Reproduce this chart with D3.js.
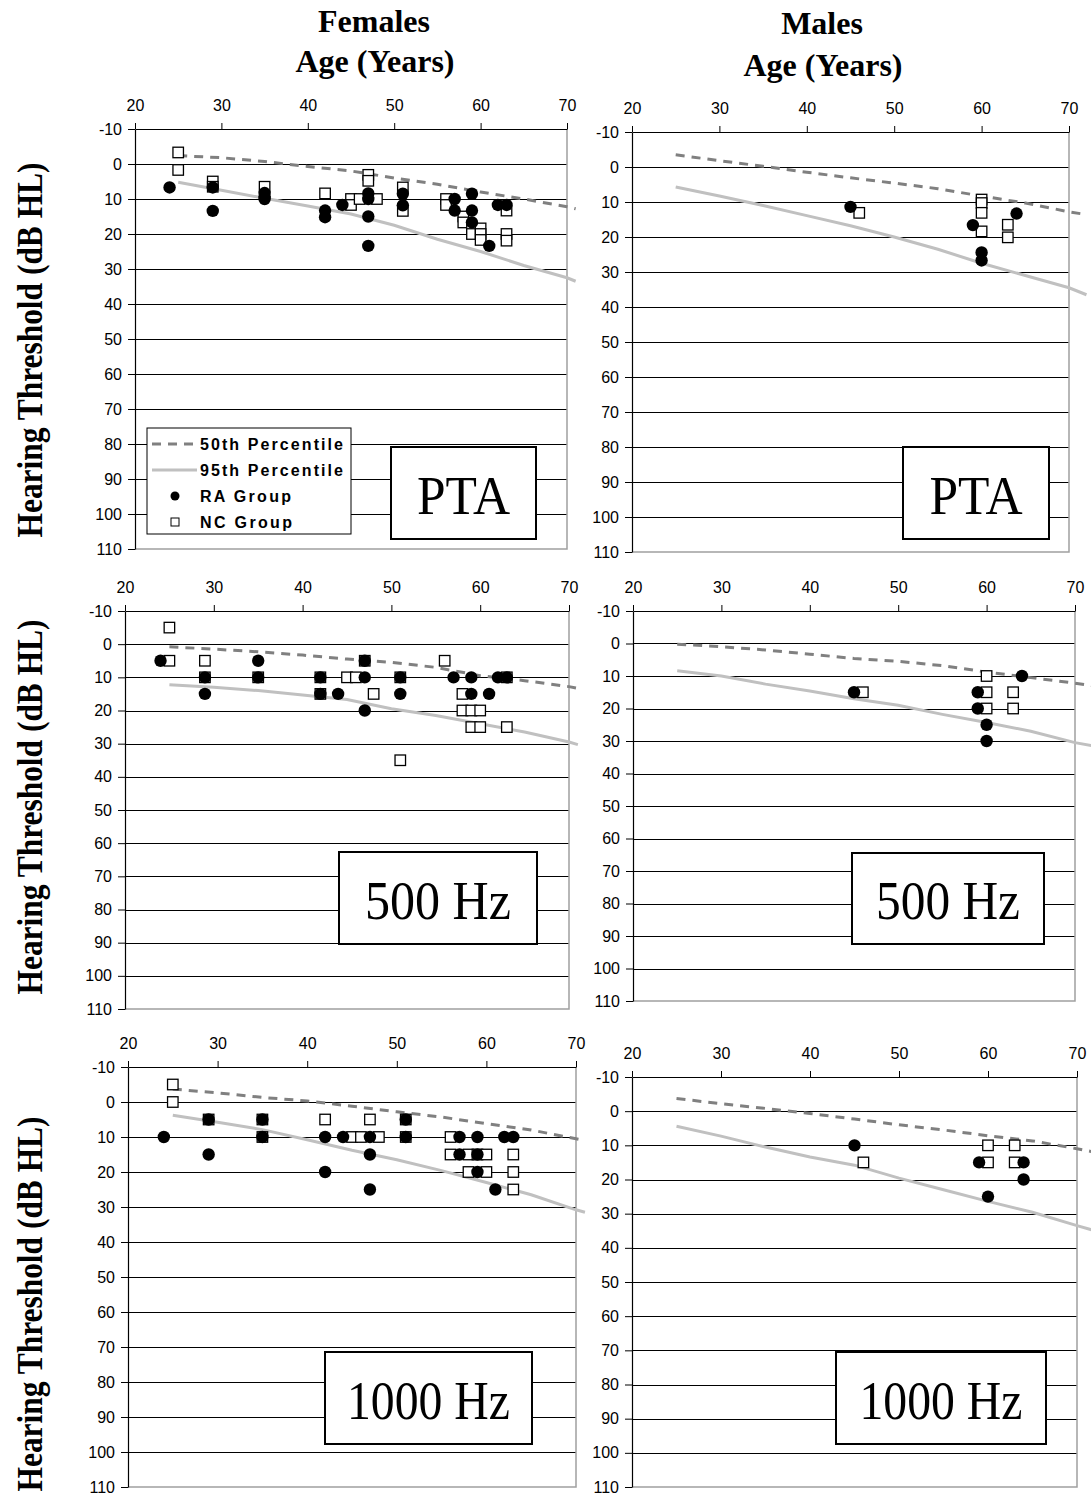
<!DOCTYPE html>
<html>
<head>
<meta charset="utf-8">
<script src="https://cdn.jsdelivr.net/npm/d3@7"></script>
<style>
  body { margin: 0; background: #fff; }
  svg { display: block; }
</style>
</head>
<body>
<div id="chart"></div>
<script>
// ---- data: [age, dB HL] ----
var xTicks = [20, 30, 40, 50, 60, 70];
var yTicks = [-10, 0, 10, 20, 30, 40, 50, 60, 70, 80, 90, 100, 110];

var femPtaRA = [[24,6.7],[29,6.7],[29,13.4],[35,8.3],[35,9.3],[35,10],[42,13.3],[42,15.2],[44,11.7],[47,8.4],[47,10],[47,15],[47,23.4],[51,8.5],[51,11.8],[57,10],[57,13.3],[59,8.5],[59,13.3],[59,16.7],[61,23.4],[62,11.7],[63,11.7]];
var femPtaNC = [[25,-3.3],[25,1.7],[29,5],[29,6.5],[35,6.5],[42,8.4],[45,10],[45,11.7],[46,10],[47,3.1],[47,4.8],[48,10],[51,6.7],[51,13.4],[56,10],[56,11.7],[58,15],[58,16.7],[59,18.3],[59,20],[60,18.4],[60,20],[60,21.7],[63,13.3],[63,20],[63,21.9]];
var femPta50 = [[25,-2.4],[30,-1.8],[35,-0.7],[40,0.7],[45,2],[50,4],[55,5.8],[60,8],[65,10],[70,12.2],[71,12.8]];
var femPta95 = [[25,5.2],[30,7.5],[35,9.8],[40,12],[45,14.3],[50,17.5],[55,21.5],[60,25],[65,29],[70,32.5],[71,33.5]];

var malPtaRA = [[45,11.4],[59,16.6],[60,24.4],[60,26.7],[64,13.3]];
var malPtaNC = [[46,13.1],[60,9.3],[60,10.3],[60,13.1],[60,18.4],[63,16.5],[63,20.1]];
var malPta50 = [[25,-3.5],[30,-1.8],[35,-0.2],[40,1.5],[45,3.1],[50,4.6],[55,6.2],[60,8.3],[65,10.3],[70,12.8],[72,13.6]];
var malPta95 = [[25,5.7],[30,8.3],[35,11],[40,13.9],[45,16.8],[50,20],[55,23.5],[60,27.5],[65,31],[70,34.5],[72,36.5]];

var fem500RA = [[24,5],[29,10],[29,15],[35,5],[35,10],[42,10],[42,15],[44,15],[47,5],[47,10],[47,20],[51,10],[51,15],[57,10],[59,10],[59,15],[61,15],[62,10],[63,10]];
var fem500NC = [[25,-5],[25,5],[29,5],[29,10],[35,10],[42,10],[42,15],[45,10],[46,10],[47,5],[48,15],[51,10],[51,35],[56,5],[58,15],[58,20],[59,20],[59,25],[60,20],[60,25],[63,10],[63,25]];
var fem50050 = [[25,0.8],[30,1.5],[35,2.3],[40,3.3],[45,4.5],[50,5.5],[55,7],[60,9.5],[65,11],[70,12.8],[71,13.3]];
var fem50095 = [[25,12.2],[30,13],[35,14],[40,15.3],[45,16.7],[50,19.5],[55,21.5],[60,24],[65,26.5],[70,29.5],[71,30.3]];

var mal500RA = [[45,15],[59,15],[59,20],[60,25],[60,30],[64,10]];
var mal500NC = [[46,15],[60,10],[60,15],[60,20],[63,15],[63,20]];
var mal50050 = [[25,0.2],[30,1],[35,2],[40,3.3],[45,4.6],[50,5.5],[55,6.8],[60,8.8],[65,10.5],[70,12.2],[72,13]];
var mal50095 = [[25,8.4],[30,10],[35,12.5],[40,14.6],[45,17],[50,19],[55,21.8],[60,24.3],[65,27],[70,30.5],[72,31.5]];

var fem1kRA = [[24,10],[29,5],[29,15],[35,5],[35,10],[42,10],[42,20],[44,10],[47,10],[47,15],[47,25],[51,5],[51,10],[57,10],[57,15],[59,10],[59,15],[59,20],[61,25],[62,10],[63,10]];
var fem1kNC = [[25,-5],[25,0],[29,5],[35,5],[35,10],[42,5],[45,10],[46,10],[47,5],[48,10],[51,5],[51,10],[56,10],[56,15],[58,15],[58,20],[59,15],[60,15],[60,20],[63,15],[63,20],[63,25]];
var fem1k50 = [[25,-3.7],[30,-2.6],[35,-1.3],[40,-0.3],[45,1.2],[50,2.8],[55,4.3],[60,6.2],[65,8],[70,10.5],[71,11]];
var fem1k95 = [[25,3.8],[30,5.8],[35,7.9],[40,10.8],[45,13.8],[50,16.5],[55,19.6],[60,23],[65,26.5],[70,30.8],[71,31.5]];

var mal1kRA = [[45,10],[59,15],[60,25],[64,15],[64,20]];
var mal1kNC = [[46,15],[60,10],[60,15],[63,10],[63,15]];
var mal1k50 = [[25,-3.7],[30,-2.2],[35,-0.8],[40,0.7],[45,2.3],[50,4],[55,5.5],[60,7.2],[65,8.7],[70,11],[72,12]];
var mal1k95 = [[25,4.4],[30,7.3],[35,10.5],[40,13.4],[45,15.8],[50,19.6],[55,23],[60,26.4],[65,29.6],[70,33.5],[72,35]];

var legendLabels = ["50th Percentile", "95th Percentile", "RA Group", "NC Group"];

// ---- layout ----
var panels = [
  {ra: femPtaRA, nc: femPtaNC, p50: femPta50, p95: femPta95, l: 135, r: 567, t: 129, b: 549,
   label: "PTA", box: [391, 447, 145, 92], tw: 93, legend: true, ylab: 350},
  {ra: malPtaRA, nc: malPtaNC, p50: malPta50, p95: malPta95, l: 632, r: 1069, t: 132, b: 552,
   label: "PTA", box: [903, 447, 146, 92], tw: 93},
  {ra: fem500RA, nc: fem500NC, p50: fem50050, p95: fem50095, l: 125, r: 569, t: 611, b: 1009,
   label: "500 Hz", box: [339, 852, 198, 92], tw: 146, ylab: 807},
  {ra: mal500RA, nc: mal500NC, p50: mal50050, p95: mal50095, l: 633, r: 1075, t: 611, b: 1001,
   label: "500 Hz", box: [852, 853, 192, 91], tw: 144},
  {ra: fem1kRA, nc: fem1kNC, p50: fem1k50, p95: fem1k95, l: 128, r: 576, t: 1067, b: 1487,
   label: "1000 Hz", box: [325, 1352, 207, 92], tw: 163, ylab: 1304},
  {ra: mal1kRA, nc: mal1kNC, p50: mal1k50, p95: mal1k95, l: 632, r: 1077, t: 1077, b: 1487,
   label: "1000 Hz", box: [836, 1352, 210, 92], tw: 163}
];

var W = 1091, H = 1496;
var svg = d3.select("#chart").append("svg").attr("width", W).attr("height", H);

var serif = "'Liberation Serif', 'Times New Roman', serif";
var sans = "'Liberation Sans', Arial, sans-serif";

// column headers
[[374, 32, "Females"], [375, 72, "Age (Years)"], [822, 34, "Males"], [823, 76, "Age (Years)"]].forEach(function(t) {
  svg.append("text").attr("x", t[0]).attr("y", t[1]).attr("text-anchor", "middle")
    .style("font-family", serif).style("font-weight", "bold").style("font-size", "32px")
    .text(t[2]);
});

panels.forEach(function(p) {
  var x = d3.scaleLinear().domain([20, 70]).range([p.l, p.r]);
  var y = d3.scaleLinear().domain([-10, 110]).range([p.t, p.b]);
  var g = svg.append("g");

  // gridlines
  g.selectAll(".grid").data(yTicks.slice(1, -1)).enter().append("line")
    .attr("x1", p.l).attr("x2", p.r)
    .attr("y1", function(d) { return Math.round(y(d)) + 0.5; })
    .attr("y2", function(d) { return Math.round(y(d)) + 0.5; })
    .attr("stroke", "#000").attr("stroke-width", 1)
    .attr("shape-rendering", "crispEdges");

  // right + bottom plot border
  g.append("path")
    .attr("d", "M" + p.r + "," + p.t + "V" + p.b + "H" + p.l)
    .attr("fill", "none").attr("stroke", "#a0a0a0").attr("stroke-width", 1.5);

  // axes
  var fmt = function(d) { return String(d); };
  var xa = g.append("g").attr("transform", "translate(0," + p.t + ")")
    .call(d3.axisTop(x).tickValues(xTicks).tickFormat(fmt).tickSize(6).tickPadding(12).tickSizeOuter(0));
  var ya = g.append("g").attr("transform", "translate(" + p.l + ",0)")
    .call(d3.axisLeft(y).tickValues(yTicks).tickFormat(fmt).tickSize(7).tickPadding(6).tickSizeOuter(0));
  [xa, ya].forEach(function(a) {
    a.select(".domain").attr("stroke", "#000").attr("stroke-width", 1.2);
    a.selectAll(".tick line").attr("stroke", "#000");
    a.selectAll(".tick text").attr("fill", "#000")
      .style("font-family", sans).style("font-size", "16px");
  });

  // percentile lines
  var line = d3.line().x(function(d) { return x(d[0]); }).y(function(d) { return y(d[1]); });
  g.append("path").datum(p.p95).attr("d", line)
    .attr("fill", "none").attr("stroke", "#c0c0c0").attr("stroke-width", 3);
  g.append("path").datum(p.p50).attr("d", line)
    .attr("fill", "none").attr("stroke", "#808080").attr("stroke-width", 3)
    .attr("stroke-dasharray", "9,7");

  // NC squares then RA circles
  var s = 10.5;
  g.selectAll(".nc").data(p.nc).enter().append("rect")
    .attr("x", function(d) { return x(d[0]) - s / 2; })
    .attr("y", function(d) { return y(d[1]) - s / 2; })
    .attr("width", s).attr("height", s)
    .attr("fill", "#fff").attr("stroke", "#000").attr("stroke-width", 1.3);
  g.selectAll(".ra").data(p.ra).enter().append("circle")
    .attr("cx", function(d) { return x(d[0]); })
    .attr("cy", function(d) { return y(d[1]); })
    .attr("r", 6.2).attr("fill", "#000");

  // label box
  var b = p.box;
  g.append("rect").attr("x", b[0]).attr("y", b[1]).attr("width", b[2]).attr("height", b[3])
    .attr("fill", "#fff").attr("stroke", "#000").attr("stroke-width", 2);
  g.append("text").attr("x", b[0] + b[2] / 2 - p.tw / 2).attr("y", b[1] + b[3] - 25)
    .attr("textLength", p.tw).attr("lengthAdjust", "spacingAndGlyphs")
    .style("font-family", serif).style("font-size", "55px").text(p.label);

  // y axis title
  if (p.ylab) {
    svg.append("text").attr("transform", "translate(42," + p.ylab + ") rotate(-90)")
      .attr("text-anchor", "middle").attr("textLength", 375).attr("lengthAdjust", "spacingAndGlyphs")
      .style("font-family", serif).style("font-weight", "bold").style("font-size", "36px")
      .text("Hearing Threshold (dB HL)");
  }

  // legend
  if (p.legend) {
    var lg = g.append("g");
    lg.append("rect").attr("x", 147).attr("y", 428).attr("width", 204).attr("height", 106)
      .attr("fill", "#fff").attr("stroke", "#000").attr("stroke-width", 1);
    var ly = [444, 470, 496, 522];
    var tl = [143, 143, 91, 92];
    lg.append("line").attr("x1", 152).attr("x2", 197).attr("y1", ly[0]).attr("y2", ly[0])
      .attr("stroke", "#808080").attr("stroke-width", 3).attr("stroke-dasharray", "9,7");
    lg.append("line").attr("x1", 152).attr("x2", 197).attr("y1", ly[1]).attr("y2", ly[1])
      .attr("stroke", "#c0c0c0").attr("stroke-width", 3);
    lg.append("circle").attr("cx", 175).attr("cy", ly[2]).attr("r", 4.5).attr("fill", "#000");
    lg.append("rect").attr("x", 171).attr("y", ly[3] - 4).attr("width", 8).attr("height", 8)
      .attr("fill", "#fff").attr("stroke", "#000").attr("stroke-width", 1);
    lg.selectAll(".lt").data(legendLabels).enter().append("text")
      .attr("x", 200).attr("y", function(d, i) { return ly[i] + 5.5; })
      .attr("textLength", function(d, i) { return tl[i]; }).attr("lengthAdjust", "spacing")
      .style("font-family", sans).style("font-weight", "bold").style("font-size", "16px")
      .text(function(d) { return d; });
  }
});
</script>
</body>
</html>
